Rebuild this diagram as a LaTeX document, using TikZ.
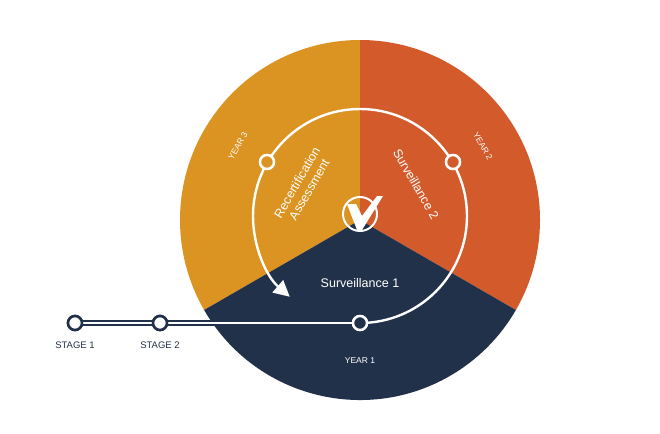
\documentclass[tikz,border=0pt]{standalone}
\usepackage{fontspec}
\setmainfont{Liberation Sans}
\usetikzlibrary{arrows.meta}
\definecolor{yorange}{HTML}{DB9321}
\definecolor{yred}{HTML}{D35B2B}
\definecolor{ynavy}{HTML}{22314A}
\begin{document}
\begin{tikzpicture}[x=1pt,y=-1pt,
  stagedot/.style={circle,draw=ynavy,line width=2.6pt,fill=white,inner sep=0pt,minimum size=14pt},
  yeardot/.style={circle,draw=white,line width=2.4pt,inner sep=0pt,minimum size=14pt},
  stagelabel/.style={text=ynavy,font=\fontsize{9.5}{11}\selectfont},
  yearlabel/.style={text=white,font=\fontsize{8.5}{10}\selectfont},
  phase/.style={text=white,font=\fontsize{12.5}{14}\selectfont,align=center}]
\useasboundingbox (0,0) rectangle (660,433);
% sectors
\fill[yorange] (360,220) -- (360,40) arc[start angle=90,end angle=210,radius=180,y radius=-180] -- cycle;
\fill[yred] (360,220) -- (360,40) arc[start angle=90,end angle=-30,radius=180,y radius=-180] -- cycle;
\fill[ynavy] (360,220) -- ++(210:180 and -180) arc[start angle=210,end angle=330,radius=180,y radius=-180] -- cycle;
% track
\node[yeardot,fill=ynavy] (y1) at (360,323) {};
\node[yeardot,fill=yred] (y2) at (453,162) {};
\node[yeardot,fill=yorange] (y3) at (267,162) {};
\node[stagedot] (s1) at (75,323) {};
\node[stagedot] (s2) at (160,323) {};
\draw[ynavy,line width=6pt] (s1) -- (s2) -- (y1);
\draw[white,line width=2pt] (s1) -- (s2) -- (y1);
\draw[white,line width=2.4pt,-{Triangle[length=16pt,width=16pt]}]
  (360,323) arc[start angle=-90,end angle=229,radius=107,y radius=-107];
\node[yeardot,fill=ynavy] at (y1) {};
\node[yeardot,fill=yred] at (y2) {};
\node[yeardot,fill=yorange] at (y3) {};
\node[stagedot] at (s1) {};
\node[stagedot] at (s2) {};
% labels
\node[stagelabel] (l1) at (75,345) {STAGE 1};
\node[stagelabel] (l2) at (160,345) {STAGE 2};
\node[yearlabel] (t1) at (360,361) {YEAR 1};
\node[yearlabel,rotate=-60] (t2) at (483,146) {YEAR 2};
\node[yearlabel,rotate=60] (t3) at (238,146) {YEAR 3};
\node[phase] (p1) at (360,283) {Surveillance 1};
\node[phase,rotate=-60] (p2) at (416,184) {Surveillance 2};
\node[phase,rotate=60] (p3) at (303,186) {Recertification\\Assessment};
% logo
\draw[white,line width=2pt] (360,214) circle[radius=17];
\fill[white] (347,204) -- (356,204) -- (362,216) -- (377,196) -- (383,196) -- (362,230) -- (357,230) -- cycle;
\end{tikzpicture}
\end{document}
